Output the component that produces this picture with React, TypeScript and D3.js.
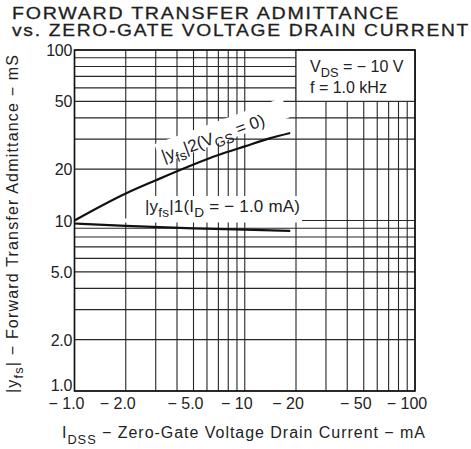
import React, { useEffect, useRef } from 'react';
import * as d3 from 'd3';

// axis ticks / labels
const tickValues = [1, 2, 5, 10, 20, 50, 100];
const yTickLabels = ['1.0', '2.0', '5.0', '10', '20', '50', '100'];
const xTickLabels = ['\u22121.0', '\u22122.0', '\u22125.0', '\u221210', '\u221220', '\u221250', '\u2212100'];
const gridValues = [1, 2, 3, 4, 5, 6, 7, 8, 9, 10, 20, 30, 40, 50, 60, 70, 80, 90, 100];

// |yfs|2 (VGS = 0)
const vgs0Idss = [1, 2, 3, 5, 7, 10, 14, 18.5];
const vgs0Yfs = [10, 14.4, 17.2, 21.3, 24.2, 27.2, 30.3, 32.6];
// |yfs|1 (ID = -1.0 mA)
const id1Idss = [1, 2, 5, 10, 18.5];
const id1Yfs = [9.6, 9.3, 9.0, 8.85, 8.7];

const FONT = '"Liberation Sans", Arial, Helvetica, sans-serif';

type Part = [string, boolean?];

const addParts = (text: any, parts: Part[], subDy: number) => {
	let down = false;
	parts.forEach(([s, sub]) => {
		const t = text.append('tspan').text(s);
		if (sub && !down) { t.attr('dy', subDy).style('font-size', '0.8em'); down = true; }
		else if (sub) { t.style('font-size', '0.8em'); }
		else if (!sub && down) { t.attr('dy', -subDy); down = false; }
	});
};

const drawChart = (node: SVGSVGElement) => {
	const svg = d3.select(node);
	svg.selectAll('*').remove();

	const left = 74.5, right = 415, top = 50, bottom = 391;
	const x = d3.scaleLog().domain([1, 100]).range([left, right]);
	const y = d3.scaleLog().domain([1, 100]).range([bottom, top]);

	// title
	const title = svg.append('g').style('font-family', FONT).style('font-size', '17px')
		.attr('fill', '#1e1e1e').attr('stroke', '#1e1e1e').attr('stroke-width', 0.3);
	title.append('text').attr('x', 12).attr('y', 18.5).attr('textLength', 388)
		.attr('letter-spacing', 1.5).attr('lengthAdjust', 'spacingAndGlyphs').text('FORWARD TRANSFER ADMITTANCE');
	title.append('text').attr('x', 12).attr('y', 36).attr('textLength', 458)
		.attr('letter-spacing', 1.5).attr('lengthAdjust', 'spacingAndGlyphs').text('vs. ZERO-GATE VOLTAGE DRAIN CURRENT');

	// grid
	const grid = svg.append('g').attr('stroke', '#262626').attr('stroke-width', 1.1);
	gridValues.forEach(v => {
		grid.append('line').attr('x1', left).attr('x2', right).attr('y1', y(v)).attr('y2', y(v));
		grid.append('line').attr('x1', x(v)).attr('x2', x(v)).attr('y1', top).attr('y2', bottom);
	});

	// knock-outs behind labels
	svg.append('rect').attr('x', 76).attr('y', 218.5).attr('width', 224).attr('height', 4).attr('fill', '#fff');
	svg.append('rect').attr('x', 140).attr('y', 196).attr('width', 162).attr('height', 25).attr('fill', '#fff');
	svg.append('g').attr('transform', 'translate(164,162) rotate(-20)')
		.append('rect').attr('x', -3).attr('y', -20).attr('width', 136).attr('height', 21).attr('fill', '#fff');

	// conditions box
	svg.append('rect').attr('x', x(20)).attr('y', top).attr('width', right - x(20)).attr('height', y(50) - top)
		.attr('fill', '#fff').attr('stroke', '#262626').attr('stroke-width', 1.1);

	// frame
	svg.append('rect').attr('x', left).attr('y', top).attr('width', right - left).attr('height', bottom - top)
		.attr('fill', 'none').attr('stroke', '#111').attr('stroke-width', 1.6);

	// curves
	const c2 = vgs0Idss.map((d, i) => [x(d), y(vgs0Yfs[i])] as [number, number]);
	const c1 = id1Idss.map((d, i) => [x(d), y(id1Yfs[i])] as [number, number]);
	svg.append('path').attr('d', d3.line().curve(d3.curveMonotoneX)(c2)).attr('fill', 'none')
		.attr('stroke', '#111').attr('stroke-width', 2.2);
	svg.append('path').attr('d', d3.line().curve(d3.curveMonotoneX)(c1)).attr('fill', 'none')
		.attr('stroke', '#111').attr('stroke-width', 2.2);

	// tick labels
	const ticks = svg.append('g').style('font-family', FONT).style('font-size', '16px').attr('fill', '#222');
	tickValues.forEach((v, i) => {
		const yy = i === 0 ? bottom : y(v) + 6;
		ticks.append('text').attr('x', 72).attr('y', yy).attr('text-anchor', 'end')
			.attr('letter-spacing', '-0.3').text(yTickLabels[i]);
		ticks.append('text').attr('x', x(v) - 8).attr('y', 409).attr('text-anchor', 'middle')
			.style('white-space', 'pre').text(xTickLabels[i].replace('\u2212', '\u2212 '));
	});

	// axis titles
	const xt = svg.append('text').attr('x', 62).attr('y', 438).style('font-family', FONT)
		.style('font-size', '16px').attr('fill', '#222').attr('textLength', 363).attr('lengthAdjust', 'spacing');
	addParts(xt, [['I'], ['DSS', true], [' \u2212 Zero-Gate Voltage Drain Current \u2212 mA']], 6);

	const yt = svg.append('text').attr('transform', 'translate(18,393) rotate(-90)').style('font-family', FONT)
		.style('font-size', '16px').attr('fill', '#222').attr('textLength', 338).attr('lengthAdjust', 'spacing');
	addParts(yt, [['|y'], ['fs', true], ['| \u2212 Forward Transfer Admittance \u2212 mS']], 5);

	// conditions
	const cond = svg.append('g').style('font-family', FONT).style('font-size', '16px').attr('fill', '#222')
		.style('white-space', 'pre');
	const c1t = cond.append('text').attr('x', 310).attr('y', 72);
	addParts(c1t, [['V'], ['DS', true], [' = \u2212 10  V']], 5);
	cond.append('text').attr('x', 310).attr('y', 93).text('f = 1.0  kHz');

	// curve labels
	const lab = svg.append('g').style('font-family', FONT).style('font-size', '17px').attr('fill', '#222')
		.style('white-space', 'pre');
	const l2 = lab.append('text').attr('transform', 'translate(164,162) rotate(-20)');
	addParts(l2, [['|y'], ['fs', true], ['|2(V'], ['GS', true], [' = 0)']], 5);
	const l1 = lab.append('text').attr('x', 145).attr('y', 212).attr('textLength', 155).attr('lengthAdjust', 'spacing');
	addParts(l1, [['|y'], ['fs', true], ['|1(I'], ['D', true], [' = \u2212 1.0  mA)']], 5);
};

const App = () => {
	const ref = useRef<SVGSVGElement>(null);
	useEffect(() => { if (ref.current) drawChart(ref.current); }, []);
	return (
		<svg ref={ref} width={471} height={449}
			style={{ position: 'absolute', left: 0, top: 0, background: '#fff' }} />
	);
};

export default App;
